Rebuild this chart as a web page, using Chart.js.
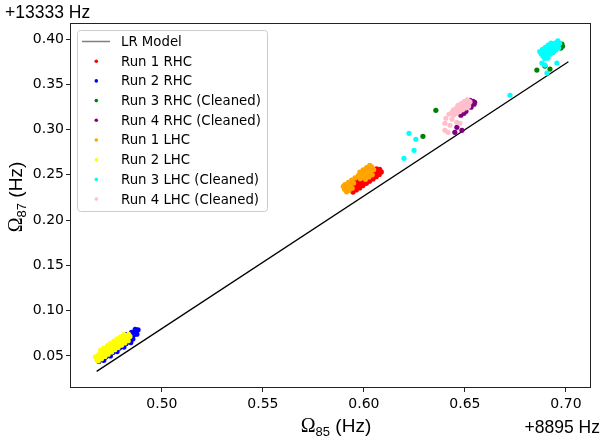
<!DOCTYPE html>
<html>
<head>
<meta charset="utf-8">
<script src="https://cdn.jsdelivr.net/npm/chart.js@4/dist/chart.umd.min.js"></script>
<style>
  html, body { margin: 0; padding: 0; background: #fff; }
</style>
</head>
<body>
<canvas id="myChart" width="601" height="444"></canvas>
<script>
// axis ticks (offset values: x + 8895 Hz, y + 13333 Hz)
const xTicks = [0.50, 0.55, 0.60, 0.65, 0.70];
const yTicks = [0.05, 0.10, 0.15, 0.20, 0.25, 0.30, 0.35, 0.40];
const xRange = [0.4545, 0.7124];
const yRange = [0.0146, 0.4177];

// LR model line end points
const lrModel = [[0.4677, 0.0330], [0.7012, 0.3749]];

const run1RHC = [
  [0.5936,0.2337],[0.5952,0.2362],[0.5969,0.2386],[0.5985,0.2411],[0.6002,0.2436],[0.6018,0.2460],
  [0.6035,0.2485],[0.6051,0.2510],[0.6068,0.2534],[0.6078,0.2560],
  [0.5930,0.2370],[0.5946,0.2394],[0.5963,0.2419],[0.5979,0.2444],[0.5996,0.2468],[0.6012,0.2493],
  [0.6029,0.2518],[0.6045,0.2542],[0.6062,0.2567],
  [0.5946,0.2310],[0.5962,0.2333],[0.5979,0.2356],[0.5995,0.2381],[0.6012,0.2406],[0.6028,0.2430],
  [0.6045,0.2455],[0.6061,0.2480],[0.6076,0.2505],[0.6086,0.2532]
];
const run2RHC = [
  [0.4688,0.0440],[0.4705,0.0462],[0.4722,0.0488],[0.4740,0.0512],[0.4757,0.0538],[0.4773,0.0562],
  [0.4790,0.0588],[0.4806,0.0612],[0.4823,0.0637],[0.4840,0.0662],[0.4856,0.0688],
  [0.4682,0.0462],[0.4698,0.0488],[0.4715,0.0512],[0.4732,0.0537],[0.4748,0.0562],[0.4765,0.0587],
  [0.4781,0.0612],[0.4798,0.0637],[0.4814,0.0661],[0.4831,0.0686],[0.4848,0.0712],[0.4862,0.0738],
  [0.4872,0.0762],[0.4882,0.0788],[0.4868,0.0795],[0.4876,0.0740],
  [0.4752,0.0612],[0.4778,0.0652],[0.4806,0.0700],[0.4826,0.0735],[0.4850,0.0760],
  [0.4712,0.0452],[0.4745,0.0500],[0.4778,0.0548],[0.4812,0.0598],[0.4846,0.0648]
];
const run3RHC = [
  [0.6960,0.3967],[0.6980,0.3945],[0.6975,0.3900],[0.6983,0.3920],[0.6936,0.3856],[0.6921,0.3668],
  [0.6856,0.3657],[0.6896,0.3701],[0.6356,0.3213],[0.6292,0.2926]
];
const run4RHC = [
  [0.6540,0.3313],[0.6545,0.3280],[0.6530,0.3247],[0.6505,0.3202],[0.6480,0.3158],[0.6495,0.3180],
  [0.6460,0.3025],[0.6450,0.2970],[0.6485,0.2992],[0.6525,0.3324],[0.6548,0.3300]
];
const run1LHC = [
  [0.5916,0.2360],[0.5932,0.2384],[0.5949,0.2409],[0.5982,0.2458],[0.5998,0.2483],
  [0.6015,0.2508],[0.6031,0.2532],[0.6048,0.2557],
  [0.5906,0.2392],[0.5923,0.2417],[0.5939,0.2441],[0.5956,0.2466],[0.5972,0.2491],[0.5989,0.2515],
  [0.6005,0.2540],[0.6022,0.2565],[0.6038,0.2589],
  [0.5926,0.2328],[0.5942,0.2352],[0.6008,0.2451],[0.6025,0.2476],[0.6041,0.2500],
  [0.5980,0.2530],[0.5996,0.2555],[0.6013,0.2580],[0.6029,0.2604],
  [0.5898,0.2372],[0.5904,0.2340],[0.5914,0.2312]
];
const run2LHC = [
  [0.4671,0.0491],[0.4678,0.0468],[0.4685,0.0445],[0.4687,0.0516],[0.4694,0.0493],[0.4701,0.0470],
  [0.4704,0.0541],[0.4711,0.0518],[0.4718,0.0495],[0.4720,0.0565],[0.4727,0.0542],[0.4734,0.0519],
  [0.4737,0.0590],[0.4744,0.0567],[0.4751,0.0544],[0.4753,0.0615],[0.4760,0.0592],[0.4767,0.0569],
  [0.4769,0.0640],[0.4776,0.0617],[0.4783,0.0594],[0.4786,0.0665],[0.4793,0.0642],[0.4800,0.0619],
  [0.4802,0.0689],[0.4809,0.0666],[0.4816,0.0643],[0.4819,0.0714],[0.4826,0.0691],[0.4833,0.0668],
  [0.4835,0.0739],[0.4842,0.0716],
  [0.4697,0.0564],[0.4713,0.0588],[0.4730,0.0613],[0.4746,0.0638],[0.4762,0.0663],[0.4779,0.0688],
  [0.4795,0.0712],[0.4812,0.0737]
];
const run3LHC = [
  [0.6886,0.3812],[0.6900,0.3835],[0.6914,0.3859],[0.6927,0.3882],[0.6941,0.3906],[0.6955,0.3929],[0.6969,0.3953],
  [0.6877,0.3838],[0.6891,0.3861],[0.6905,0.3885],[0.6918,0.3908],[0.6932,0.3932],[0.6946,0.3955],[0.6960,0.3979],
  [0.6895,0.3786],[0.6909,0.3809],[0.6923,0.3833],[0.6936,0.3856],[0.6950,0.3880],[0.6964,0.3903],
  [0.6870,0.3862],[0.6884,0.3885],[0.6898,0.3908],[0.6912,0.3932],[0.6926,0.3955],
  [0.6881,0.3735],[0.6896,0.3712],[0.6955,0.3735],[0.6906,0.3624],[0.6911,0.3790],
  [0.6223,0.2959],[0.6257,0.2893],[0.6248,0.2771],[0.6198,0.2683],[0.6723,0.3379]
];
const run4LHC = [
  [0.6421,0.3169],[0.6436,0.3189],[0.6451,0.3209],[0.6466,0.3228],[0.6481,0.3248],[0.6495,0.3268],[0.6510,0.3287],[0.6525,0.3307],
  [0.6443,0.3218],[0.6458,0.3237],[0.6473,0.3257],[0.6488,0.3277],[0.6502,0.3296],[0.6517,0.3316],
  [0.6444,0.3160],[0.6459,0.3180],[0.6474,0.3199],[0.6488,0.3219],[0.6503,0.3239],[0.6518,0.3258],
  [0.6466,0.3268],[0.6481,0.3288],[0.6496,0.3308],[0.6511,0.3328],
  [0.6401,0.3070],[0.6426,0.3048],[0.6401,0.2992],[0.6416,0.2970],[0.6460,0.3081],[0.6475,0.3070],
  [0.6436,0.3114],[0.6406,0.3125]
];

const seriesNames = ['Run 1 RHC', 'Run 2 RHC', 'Run 3 RHC (Cleaned)', 'Run 4 RHC (Cleaned)',
                     'Run 1 LHC', 'Run 2 LHC', 'Run 3 LHC (Cleaned)', 'Run 4 LHC (Cleaned)'];
const seriesData = [run1RHC, run2RHC, run3RHC, run4RHC, run1LHC, run2LHC, run3LHC, run4LHC];
const seriesColors = ['#ff0000', '#0000ff', '#008000', '#800080', '#ffa500', '#ffff00', '#00ffff', '#ffc0cb'];

const toXY = arr => arr.map(p => ({ x: p[0], y: p[1] }));

const datasets = [{
  type: 'line',
  label: 'LR Model',
  data: toXY(lrModel),
  borderColor: '#000',
  borderWidth: 1.3,
  pointRadius: 0,
  fill: false,
  order: 3
}];
seriesNames.forEach((name, i) => {
  datasets.push({
    type: 'scatter',
    label: name,
    data: toXY(seriesData[i]),
    backgroundColor: seriesColors[i],
    borderWidth: 0,
    pointRadius: 2.6,
    order: i < 4 ? 2 : 1
  });
});

const tickFont = { family: 'DejaVu Sans', size: 14 };

function drawOmegaLabel(ctx, sub, cx, cy) {
  const fBig = '20px "Liberation Serif"', fSub = '13px "Liberation Sans"', fTxt = '19px "Liberation Sans"';
  ctx.font = fBig; const w1 = ctx.measureText('\u03A9').width;
  ctx.font = fSub; const w2 = ctx.measureText(sub).width;
  ctx.font = fTxt; const w3 = ctx.measureText(' (Hz)').width;
  let x = cx - (w1 + w2 + w3) / 2;
  ctx.textAlign = 'left';
  ctx.textBaseline = 'alphabetic';
  ctx.font = fBig; ctx.fillText('\u03A9', x, cy); x += w1;
  ctx.font = fSub; ctx.fillText(sub, x, cy + 4); x += w2;
  ctx.font = fTxt; ctx.fillText(' (Hz)', x, cy);
}

const decorations = {
  id: 'decorations',
  afterDraw(chart) {
    const ctx = chart.ctx;
    const a = chart.chartArea;
    ctx.save();
    // axes frame
    ctx.strokeStyle = '#222';
    ctx.lineWidth = 1;
    ctx.strokeRect(Math.round(a.left) + 0.5, Math.round(a.top) + 0.5,
                   Math.round(a.right - a.left) - 1, Math.round(a.bottom - a.top) - 1);

    // offset texts
    ctx.fillStyle = '#000';
    ctx.font = '17.5px "Liberation Sans"';
    ctx.textBaseline = 'alphabetic';
    ctx.textAlign = 'left';
    ctx.fillText('+13333 Hz', 5, 18);
    ctx.textAlign = 'right';
    ctx.fillText('+8895 Hz', 600, 433);

    // axis titles
    drawOmegaLabel(ctx, '85', 336, 432);
    ctx.save();
    ctx.translate(22, 197);
    ctx.rotate(-Math.PI / 2);
    drawOmegaLabel(ctx, '87', 0, 0);
    ctx.restore();

    // legend
    const lx = 77.5, ly = 30.5, lw = 190, lh = 181, r = 3;
    ctx.beginPath();
    ctx.moveTo(lx + r, ly);
    ctx.arcTo(lx + lw, ly, lx + lw, ly + lh, r);
    ctx.arcTo(lx + lw, ly + lh, lx, ly + lh, r);
    ctx.arcTo(lx, ly + lh, lx, ly, r);
    ctx.arcTo(lx, ly, lx + lw, ly, r);
    ctx.closePath();
    ctx.fillStyle = 'rgba(255,255,255,0.8)';
    ctx.fill();
    ctx.strokeStyle = '#cccccc';
    ctx.stroke();

    ctx.font = '13.3px "DejaVu Sans"';
    ctx.textAlign = 'left';
    ctx.textBaseline = 'middle';
    chart.data.datasets.forEach((ds, i) => {
      const y = 41.5 + i * 19.7;
      if (ds.type === 'line') {
        ctx.strokeStyle = '#7f7f7f';
        ctx.lineWidth = 1.5;
        ctx.beginPath();
        ctx.moveTo(82, y);
        ctx.lineTo(110, y);
        ctx.stroke();
      } else {
        ctx.fillStyle = ds.backgroundColor;
        ctx.beginPath();
        ctx.arc(96.3, y, 1.8, 0, Math.PI * 2);
        ctx.fill();
      }
      ctx.fillStyle = '#000';
      ctx.fillText(ds.label, 121, y + 1);
    });
    ctx.restore();
  }
};

new Chart(document.getElementById('myChart'), {
  type: 'scatter',
  data: { datasets: datasets },
  options: {
    responsive: false,
    animation: false,
    devicePixelRatio: 1,
    layout: { padding: { top: 23, right: 10, left: 0, bottom: 0 } },
    plugins: {
      legend: { display: false },
      tooltip: { enabled: false }
    },
    scales: {
      x: {
        type: 'linear',
        min: xRange[0],
        max: xRange[1],
        afterBuildTicks: s => { s.ticks = xTicks.map(v => ({ value: v })); },
        afterFit: s => { s.height = 56; },
        border: { display: false },
        grid: { drawOnChartArea: false, drawTicks: true, tickLength: 4, color: '#222' },
        ticks: {
          font: tickFont, color: '#000', padding: 4, maxRotation: 0,
          callback: v => v.toFixed(2)
        }
      },
      y: {
        type: 'linear',
        min: yRange[0],
        max: yRange[1],
        afterBuildTicks: s => { s.ticks = yTicks.map(v => ({ value: v })); },
        afterFit: s => { s.width = 70; },
        border: { display: false },
        grid: { drawOnChartArea: false, drawTicks: true, tickLength: 4, color: '#222' },
        ticks: {
          font: tickFont, color: '#000', padding: 2,
          callback: v => v.toFixed(2)
        }
      }
    }
  },
  plugins: [decorations]
});
</script>
</body>
</html>
